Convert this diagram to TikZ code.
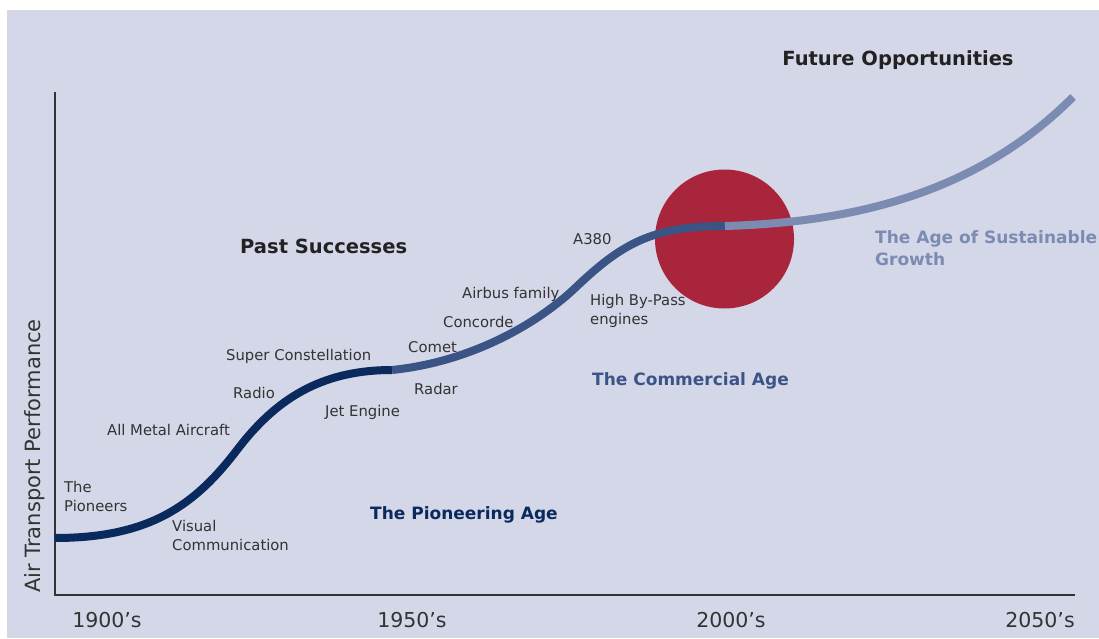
\documentclass[tikz,border=0pt]{standalone}
\usepackage{fontspec}
\setmainfont{DejaVu Sans}
\definecolor{panel}{HTML}{D4D7E8}
\definecolor{pioneer}{HTML}{0A2A5E}
\definecolor{commercial}{HTML}{3B5486}
\definecolor{sustain}{HTML}{7B8BB2}
\definecolor{bigdot}{HTML}{A8253B}
\definecolor{labelgrey}{HTML}{333333}
\definecolor{headgrey}{HTML}{222222}
\tikzset{
  milestone/.style={anchor=west, inner sep=0pt, text=labelgrey, align=left,
    font=\fontsize{14.8}{19}\selectfont},
  agelabel/.style={anchor=west, inner sep=0pt, align=left,
    font=\fontsize{17}{22}\selectfont\bfseries},
  headline/.style={agelabel, text=headgrey, font=\fontsize{19.5}{24}\selectfont\bfseries},
  decade/.style={inner sep=0pt, text=labelgrey, font=\fontsize{20.5}{24}\selectfont},
  growth/.style={line width=8pt}
}
\begin{document}
\begin{tikzpicture}[x=1pt,y=-1pt] % Entwicklung Luftverkehr
\useasboundingbox (0,0) rectangle (1099,639);
\fill[white] (0,0) rectangle (1099,639);
\fill[panel] (7,10) rectangle (1099,638);
% Achsen
\coordinate (top) at (55,92);
\coordinate (origin) at (55,595);
\coordinate (right) at (1075,595);
\draw[labelgrey, line width=1.5pt] (top) -- (origin) -- (right);
% Kreis
\fill[bigdot] (724.5,239) circle (69.5pt);
% Kurve
\coordinate (start) at (55,538);
\coordinate (jet) at (392,370);
\coordinate (now) at (725,226);
\coordinate (future) at (1073,97);
\draw[growth, pioneer] (start) .. controls (150,538) and (195,505) .. (237,450)
    .. controls (275,400) and (320,370) .. (jet);
\draw[growth, commercial] (jet) .. controls (470,362) and (535,325) .. (573,290)
    .. controls (620,245) and (650,226) .. (now);
\draw[growth, sustain] (now) .. controls (870,222) and (985,185) .. (future);
% Beschriftung
\node[headline, anchor=center] (opps) at (898,60) {Future Opportunities};
\node[headline] (past) at (240,246) {Past Successes};
\node[agelabel, text=sustain] (sustainable) at (875,248) {The Age of Sustainable\\Growth};
\node[agelabel, text=commercial] (commercialage) at (592,381) {The Commercial Age};
\node[agelabel, text=pioneer] (pioneering) at (370,515) {The Pioneering Age};
\node[milestone] (a380) at (573,239) {A380};
\node[milestone] (airbus) at (462,294) {Airbus family};
\node[milestone] (bypass) at (590,311) {High By-Pass\\engines};
\node[milestone] (concorde) at (443,322) {Concorde};
\node[milestone] (comet) at (408,347) {Comet};
\node[milestone] (radar) at (414,389) {Radar};
\node[milestone] (constellation) at (226,356) {Super Constellation};
\node[milestone] (jetengine) at (325,412) {Jet Engine};
\node[milestone] (radio) at (233,393) {Radio};
\node[milestone] (metal) at (107,430) {All Metal Aircraft};
\node[milestone] (pioneers) at (64,496) {The\\Pioneers};
\node[milestone] (visual) at (172,535) {Visual\\Communication};
\node[decade, rotate=90, font=\fontsize{21}{25}\selectfont] (perf) at (35,456) {Air Transport Performance};
\node[decade] (y1900) at (107,620) {1900's};
\node[decade] (y1950) at (412,620) {1950's};
\node[decade] (y2000) at (731,620) {2000's};
\node[decade] (y2050) at (1040,620) {2050's};
\end{tikzpicture}
\end{document}
